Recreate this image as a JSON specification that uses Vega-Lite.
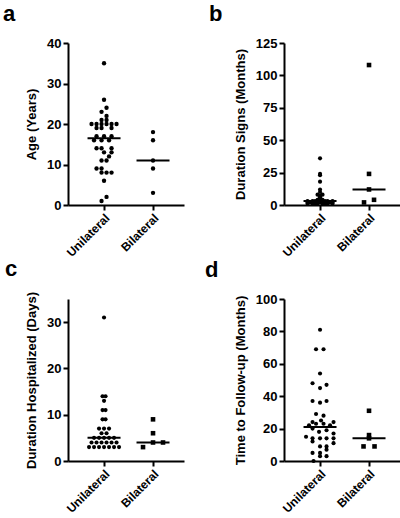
{
  "$schema": "https://vega.github.io/schema/vega-lite/v6.json",
  "padding": {"left": 3, "top": 3, "right": 0, "bottom": 0},
  "bounds": "flush",
  "columns": 2,
  "spacing": {"column": 100, "row": 94},
  "config": {
    "font": "Liberation Sans",
    "view": {"stroke": null},
    "axis": {"domainColor": "black", "domainWidth": 2, "tickColor": "black", "tickWidth": 2, "tickSize": 5, "labelFont": "Liberation Sans", "labelFontSize": 13, "labelFontWeight": "bold", "labelColor": "black", "labelOverlap": false, "titleFont": "Liberation Sans", "titleFontSize": 13, "titleFontWeight": "bold", "titleColor": "black", "grid": false, "labelPadding": 2, "titlePadding": 8},
    "title": {"fontSize": 22, "fontWeight": "bold", "anchor": "start", "frame": "group", "color": "black", "font": "Liberation Sans", "offset": 11}
  },
  "datasets": {
    "a": [
      {"group": "Unilateral", "value": 35, "slot": 0},
      {"group": "Unilateral", "value": 26, "slot": 0},
      {"group": "Unilateral", "value": 24, "slot": 0.5},
      {"group": "Unilateral", "value": 23, "slot": -0.5},
      {"group": "Unilateral", "value": 22, "slot": 0.5},
      {"group": "Unilateral", "value": 21, "slot": -0.5},
      {"group": "Unilateral", "value": 21, "slot": 0.5},
      {"group": "Unilateral", "value": 20, "slot": -2.5},
      {"group": "Unilateral", "value": 20, "slot": -1.5},
      {"group": "Unilateral", "value": 20, "slot": -0.5},
      {"group": "Unilateral", "value": 20, "slot": 0.5},
      {"group": "Unilateral", "value": 20, "slot": 1.5},
      {"group": "Unilateral", "value": 20, "slot": 2.5},
      {"group": "Unilateral", "value": 19, "slot": -1.5},
      {"group": "Unilateral", "value": 19, "slot": -0.5},
      {"group": "Unilateral", "value": 19, "slot": 1.5},
      {"group": "Unilateral", "value": 17, "slot": -1.5},
      {"group": "Unilateral", "value": 17, "slot": 0},
      {"group": "Unilateral", "value": 17, "slot": 1.5},
      {"group": "Unilateral", "value": 16, "slot": -2},
      {"group": "Unilateral", "value": 16, "slot": -0.5},
      {"group": "Unilateral", "value": 16, "slot": 1},
      {"group": "Unilateral", "value": 14, "slot": -1.5},
      {"group": "Unilateral", "value": 14, "slot": -0.5},
      {"group": "Unilateral", "value": 14, "slot": 1.5},
      {"group": "Unilateral", "value": 13, "slot": 0},
      {"group": "Unilateral", "value": 13, "slot": 1.5},
      {"group": "Unilateral", "value": 12, "slot": 1},
      {"group": "Unilateral", "value": 11, "slot": -0.5},
      {"group": "Unilateral", "value": 11, "slot": 0.5},
      {"group": "Unilateral", "value": 9, "slot": -1.5},
      {"group": "Unilateral", "value": 9, "slot": -0.5},
      {"group": "Unilateral", "value": 8, "slot": -0.5},
      {"group": "Unilateral", "value": 8, "slot": 0.5},
      {"group": "Unilateral", "value": 8, "slot": 1.5},
      {"group": "Unilateral", "value": 6, "slot": 0},
      {"group": "Unilateral", "value": 2, "slot": 0.5},
      {"group": "Unilateral", "value": 1, "slot": -0.5},
      {"group": "Bilateral", "value": 18, "slot": 0},
      {"group": "Bilateral", "value": 16, "slot": 0},
      {"group": "Bilateral", "value": 11, "slot": 0},
      {"group": "Bilateral", "value": 9, "slot": 0},
      {"group": "Bilateral", "value": 3, "slot": 0}
    ],
    "b": [
      {"group": "Unilateral", "value": 36, "slot": 0},
      {"group": "Unilateral", "value": 24, "slot": 0},
      {"group": "Unilateral", "value": 23, "slot": 0},
      {"group": "Unilateral", "value": 18, "slot": 0},
      {"group": "Unilateral", "value": 12, "slot": 0},
      {"group": "Unilateral", "value": 10, "slot": 0},
      {"group": "Unilateral", "value": 8, "slot": -0.5},
      {"group": "Unilateral", "value": 8, "slot": 0.5},
      {"group": "Unilateral", "value": 7, "slot": 0},
      {"group": "Unilateral", "value": 6, "slot": 0},
      {"group": "Unilateral", "value": 5, "slot": 0},
      {"group": "Unilateral", "value": 4, "slot": -0.5},
      {"group": "Unilateral", "value": 4, "slot": 0.5},
      {"group": "Unilateral", "value": 3, "slot": -2.5},
      {"group": "Unilateral", "value": 3, "slot": -1.5},
      {"group": "Unilateral", "value": 3, "slot": -0.5},
      {"group": "Unilateral", "value": 3, "slot": 0.5},
      {"group": "Unilateral", "value": 3, "slot": 1.5},
      {"group": "Unilateral", "value": 3, "slot": 2.5},
      {"group": "Unilateral", "value": 3, "slot": -1},
      {"group": "Unilateral", "value": 3, "slot": 0},
      {"group": "Unilateral", "value": 3, "slot": 1},
      {"group": "Unilateral", "value": 2, "slot": -2},
      {"group": "Unilateral", "value": 2, "slot": -1},
      {"group": "Unilateral", "value": 2, "slot": 0},
      {"group": "Unilateral", "value": 2, "slot": 1},
      {"group": "Unilateral", "value": 2, "slot": 2},
      {"group": "Unilateral", "value": 2, "slot": -2.5},
      {"group": "Unilateral", "value": 2, "slot": 2.5},
      {"group": "Unilateral", "value": 2, "slot": 0.5},
      {"group": "Unilateral", "value": 1, "slot": -2.5},
      {"group": "Unilateral", "value": 1, "slot": -1.5},
      {"group": "Unilateral", "value": 1, "slot": -0.5},
      {"group": "Unilateral", "value": 1, "slot": 0.5},
      {"group": "Unilateral", "value": 1, "slot": 1.5},
      {"group": "Unilateral", "value": 1, "slot": 2.5},
      {"group": "Unilateral", "value": 1, "slot": -1},
      {"group": "Unilateral", "value": 1, "slot": 1},
      {"group": "Bilateral", "value": 108, "slot": 0},
      {"group": "Bilateral", "value": 24, "slot": 0},
      {"group": "Bilateral", "value": 12, "slot": 0},
      {"group": "Bilateral", "value": 4, "slot": 1},
      {"group": "Bilateral", "value": 2, "slot": -1}
    ],
    "c": [
      {"group": "Unilateral", "value": 31, "slot": 0},
      {"group": "Unilateral", "value": 14, "slot": -0.3},
      {"group": "Unilateral", "value": 14, "slot": 0.3},
      {"group": "Unilateral", "value": 13, "slot": 0},
      {"group": "Unilateral", "value": 11, "slot": -0.3},
      {"group": "Unilateral", "value": 11, "slot": 0.3},
      {"group": "Unilateral", "value": 9, "slot": -0.3},
      {"group": "Unilateral", "value": 9, "slot": 0.3},
      {"group": "Unilateral", "value": 7, "slot": -1},
      {"group": "Unilateral", "value": 7, "slot": 0},
      {"group": "Unilateral", "value": 7, "slot": 1},
      {"group": "Unilateral", "value": 6, "slot": -0.5},
      {"group": "Unilateral", "value": 6, "slot": 0.5},
      {"group": "Unilateral", "value": 5, "slot": -2},
      {"group": "Unilateral", "value": 5, "slot": -1},
      {"group": "Unilateral", "value": 5, "slot": 0},
      {"group": "Unilateral", "value": 5, "slot": 1},
      {"group": "Unilateral", "value": 5, "slot": 2},
      {"group": "Unilateral", "value": 4, "slot": -2.5},
      {"group": "Unilateral", "value": 4, "slot": -1.5},
      {"group": "Unilateral", "value": 4, "slot": -0.5},
      {"group": "Unilateral", "value": 4, "slot": 0.5},
      {"group": "Unilateral", "value": 4, "slot": 1.5},
      {"group": "Unilateral", "value": 4, "slot": 2.5},
      {"group": "Unilateral", "value": 3, "slot": -3},
      {"group": "Unilateral", "value": 3, "slot": -2},
      {"group": "Unilateral", "value": 3, "slot": -1},
      {"group": "Unilateral", "value": 3, "slot": 0},
      {"group": "Unilateral", "value": 3, "slot": 1},
      {"group": "Unilateral", "value": 3, "slot": 2},
      {"group": "Unilateral", "value": 3, "slot": 3},
      {"group": "Bilateral", "value": 9, "slot": 0},
      {"group": "Bilateral", "value": 6, "slot": 0},
      {"group": "Bilateral", "value": 4, "slot": 0},
      {"group": "Bilateral", "value": 4, "slot": 2},
      {"group": "Bilateral", "value": 3, "slot": -2}
    ],
    "d": [
      {"group": "Unilateral", "value": 81, "slot": 0},
      {"group": "Unilateral", "value": 69, "slot": -0.8},
      {"group": "Unilateral", "value": 69, "slot": 0.7},
      {"group": "Unilateral", "value": 54, "slot": 0},
      {"group": "Unilateral", "value": 48, "slot": -1.5},
      {"group": "Unilateral", "value": 47, "slot": 1.3},
      {"group": "Unilateral", "value": 45, "slot": 0},
      {"group": "Unilateral", "value": 37, "slot": -1.5},
      {"group": "Unilateral", "value": 36, "slot": 0},
      {"group": "Unilateral", "value": 37, "slot": 1.3},
      {"group": "Unilateral", "value": 29, "slot": -0.8},
      {"group": "Unilateral", "value": 28, "slot": 0.7},
      {"group": "Unilateral", "value": 25, "slot": 0.2},
      {"group": "Unilateral", "value": 24, "slot": -1.5},
      {"group": "Unilateral", "value": 24, "slot": 2.7},
      {"group": "Unilateral", "value": 23, "slot": -0.8},
      {"group": "Unilateral", "value": 23, "slot": 0.7},
      {"group": "Unilateral", "value": 22, "slot": -2.2},
      {"group": "Unilateral", "value": 22, "slot": 2},
      {"group": "Unilateral", "value": 20, "slot": -1.5},
      {"group": "Unilateral", "value": 19, "slot": 1.3},
      {"group": "Unilateral", "value": 18, "slot": -0.2},
      {"group": "Unilateral", "value": 17, "slot": 2.7},
      {"group": "Unilateral", "value": 15, "slot": -2.8},
      {"group": "Unilateral", "value": 14, "slot": -1.5},
      {"group": "Unilateral", "value": 14, "slot": 0},
      {"group": "Unilateral", "value": 14, "slot": 1.3},
      {"group": "Unilateral", "value": 14, "slot": 2.7},
      {"group": "Unilateral", "value": 12, "slot": -1.5},
      {"group": "Unilateral", "value": 11, "slot": 2.7},
      {"group": "Unilateral", "value": 9, "slot": 0},
      {"group": "Unilateral", "value": 9, "slot": 1.3},
      {"group": "Unilateral", "value": 7, "slot": 1.3},
      {"group": "Unilateral", "value": 5, "slot": -1.5},
      {"group": "Unilateral", "value": 5, "slot": 0},
      {"group": "Unilateral", "value": 3, "slot": 0},
      {"group": "Unilateral", "value": 3, "slot": 1.3},
      {"group": "Unilateral", "value": 0, "slot": -1.3},
      {"group": "Bilateral", "value": 31, "slot": 0},
      {"group": "Bilateral", "value": 16, "slot": 0},
      {"group": "Bilateral", "value": 14, "slot": 0},
      {"group": "Bilateral", "value": 9, "slot": -1.1},
      {"group": "Bilateral", "value": 9, "slot": 1.1}
    ]
  },
  "concat": [
    {
      "width": 116, "height": 162,
      "title": {"text": "a", "dx": -65},
      "data": {"name": "a"},
      "encoding": {
        "x": {"field": "group", "type": "nominal", "title": null, "scale": {"type": "band", "domain": ["Unilateral", "Bilateral"], "paddingInner": 0, "paddingOuter": 0.184, "align": 0.64}, "axis": {"labelAngle": -45, "labelFontSize": 12}},
        "y": {"field": "value", "type": "quantitative", "scale": {"domain": [0, 40]}, "axis": {"values": [0, 10, 20, 30, 40], "title": "Age (Years)"}}
      },
      "layer": [
        {"mark": {"type": "point", "filled": true, "color": "black", "opacity": 1, "shape": "circle", "size": 19},
         "encoding": {
           "xOffset": {"field": "slot", "type": "quantitative", "scale": {"domain": [-4.9, 4.9], "range": [0, 49]}}
         }},
        {"transform": [{"aggregate": [{"op": "median", "field": "value", "as": "value"}], "groupby": ["group"]}],
         "mark": {"type": "tick", "color": "black", "opacity": 1, "size": 33, "thickness": 2},
         "encoding": {}}
      ]
    },
    {
      "width": 116, "height": 162,
      "title": {"text": "b", "dx": -75},
      "data": {"name": "b"},
      "encoding": {
        "x": {"field": "group", "type": "nominal", "title": null, "scale": {"type": "band", "domain": ["Unilateral", "Bilateral"], "paddingInner": 0, "paddingOuter": 0.184, "align": 0.64}, "axis": {"labelAngle": -45, "labelFontSize": 12}},
        "y": {"field": "value", "type": "quantitative", "scale": {"domain": [0, 125]}, "axis": {"values": [0, 25, 50, 75, 100, 125], "title": "Duration Signs (Months)"}}
      },
      "layer": [
        {"mark": {"type": "point", "filled": true, "color": "black", "opacity": 1},
         "encoding": {
           "xOffset": {"field": "slot", "type": "quantitative", "scale": {"domain": [-4.9, 4.9], "range": [0, 49]}},
           "shape": {"field": "group", "type": "nominal", "scale": {"domain": ["Unilateral", "Bilateral"], "range": ["circle", "square"]}, "legend": null},
           "size": {"field": "group", "type": "nominal", "scale": {"domain": ["Unilateral", "Bilateral"], "range": [17, 21]}, "legend": null}
         }},
        {"transform": [{"aggregate": [{"op": "median", "field": "value", "as": "value"}], "groupby": ["group"]}],
         "mark": {"type": "tick", "color": "black", "opacity": 1, "size": 33, "thickness": 2},
         "encoding": {}}
      ]
    },
    {
      "width": 116, "height": 162,
      "title": {"text": "c", "dx": -63},
      "data": {"name": "c"},
      "encoding": {
        "x": {"field": "group", "type": "nominal", "title": null, "scale": {"type": "band", "domain": ["Unilateral", "Bilateral"], "paddingInner": 0, "paddingOuter": 0.184, "align": 0.64}, "axis": {"labelAngle": -45, "labelFontSize": 12}},
        "y": {"field": "value", "type": "quantitative", "scale": {"domain": [0, 35]}, "axis": {"values": [0, 10, 20, 30], "title": "Duration Hospitalized (Days)"}}
      },
      "layer": [
        {"mark": {"type": "point", "filled": true, "color": "black", "opacity": 1},
         "encoding": {
           "xOffset": {"field": "slot", "type": "quantitative", "scale": {"domain": [-4.9, 4.9], "range": [0, 49]}},
           "shape": {"field": "group", "type": "nominal", "scale": {"domain": ["Unilateral", "Bilateral"], "range": ["circle", "square"]}, "legend": null},
           "size": {"field": "group", "type": "nominal", "scale": {"domain": ["Unilateral", "Bilateral"], "range": [15, 19]}, "legend": null}
         }},
        {"transform": [{"aggregate": [{"op": "median", "field": "value", "as": "value"}], "groupby": ["group"]}],
         "mark": {"type": "tick", "color": "black", "opacity": 1, "size": 33, "thickness": 2},
         "encoding": {}}
      ]
    },
    {
      "width": 116, "height": 162,
      "title": {"text": "d", "dx": -79},
      "data": {"name": "d"},
      "encoding": {
        "x": {"field": "group", "type": "nominal", "title": null, "scale": {"type": "band", "domain": ["Unilateral", "Bilateral"], "paddingInner": 0, "paddingOuter": 0.184, "align": 0.64}, "axis": {"labelAngle": -45, "labelFontSize": 12}},
        "y": {"field": "value", "type": "quantitative", "scale": {"domain": [0, 100]}, "axis": {"values": [0, 20, 40, 60, 80, 100], "title": "Time to Follow-up (Months)"}}
      },
      "layer": [
        {"mark": {"type": "point", "filled": true, "color": "black", "opacity": 1},
         "encoding": {
           "xOffset": {"field": "slot", "type": "quantitative", "scale": {"domain": [-4.9, 4.9], "range": [0, 49]}},
           "shape": {"field": "group", "type": "nominal", "scale": {"domain": ["Unilateral", "Bilateral"], "range": ["circle", "square"]}, "legend": null},
           "size": {"field": "group", "type": "nominal", "scale": {"domain": ["Unilateral", "Bilateral"], "range": [16, 21]}, "legend": null}
         }},
        {"transform": [{"aggregate": [{"op": "median", "field": "value", "as": "value"}], "groupby": ["group"]}],
         "mark": {"type": "tick", "color": "black", "opacity": 1, "size": 33, "thickness": 2},
         "encoding": {}}
      ]
    }
  ]
}
